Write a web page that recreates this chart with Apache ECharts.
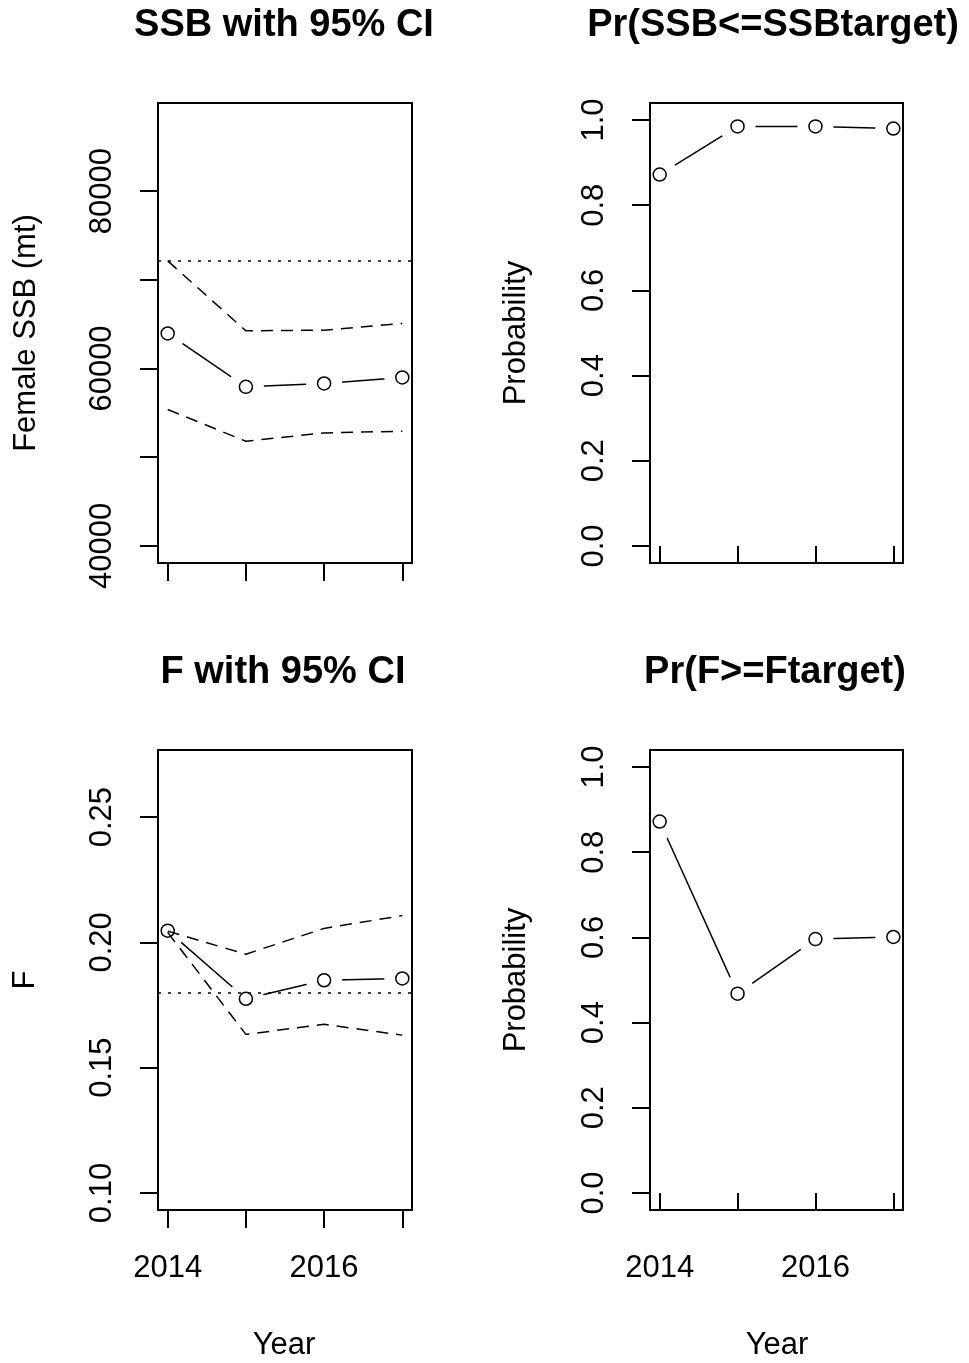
<!DOCTYPE html>
<html>
<head>
<meta charset="utf-8">
<script src="https://cdn.jsdelivr.net/npm/echarts@6/dist/echarts.min.js"></script>
<style>
html,body{margin:0;padding:0;background:#fff;}
#chart{width:969px;height:1363px;}
</style>
</head>
<body>
<div id="chart"></div>
<script>
// ---- data ----
const years = [2014, 2015, 2016, 2017];
const ssbMedian = [63950, 57930, 58310, 58990];
const ssbLower = [55380, 51800, 52740, 52930];
const ssbUpper = [72130, 64240, 64320, 65070];
const ssbTarget = 72100;
const fMedian = [0.2047, 0.1775, 0.1849, 0.1856];
const fLower = [0.2040, 0.1633, 0.1673, 0.1630];
const fUpper = [0.2045, 0.1953, 0.2056, 0.2107];
const fTarget = 0.18;
const prSSB = [0.872, 0.985, 0.985, 0.980];
const prF = [0.872, 0.468, 0.596, 0.601];
const ssbTicks = [40000, 50000, 60000, 70000, 80000];
const ssbTickLabels = [40000, 60000, 80000];
const fTicks = [0.10, 0.15, 0.20, 0.25];
const probTicks = [0.0, 0.2, 0.4, 0.6, 0.8, 1.0];
const yearLabels = [2014, 2016];
const titles = ['SSB with 95% CI', 'Pr(SSB<=SSBtarget)', 'F with 95% CI', 'Pr(F>=Ftarget)'];
const yNames = ['Female SSB (mt)', 'Probability', 'F', 'Probability'];
const xName = 'Year';

// ---- layout ----
const FONT = '"Liberation Sans", Arial, sans-serif';
const grids = [
  {left: 158, top: 103, width: 254, height: 460},
  {left: 650, top: 103, width: 253, height: 460},
  {left: 158, top: 750, width: 254, height: 460},
  {left: 650, top: 750, width: 253, height: 460}
];
const yRanges = [
  {min: 38080, max: 89920, ticks: ssbTicks, labels: ssbTickLabels, fmt: v => String(Math.round(v))},
  {min: -0.04, max: 1.04, ticks: probTicks, labels: probTicks, fmt: v => v.toFixed(1)},
  {min: 0.0932, max: 0.2768, ticks: fTicks, labels: fTicks, fmt: v => v.toFixed(2)},
  {min: -0.04, max: 1.04, ticks: probTicks, labels: probTicks, fmt: v => v.toFixed(1)}
];

const pairs = vals => years.map((y, i) => [y, vals[i]]);

const xAxes = grids.map((g, i) => ({
  type: 'value', gridIndex: i, min: 2013.876, max: 2017.124, z: 10,
  axisLine: {show: false}, splitLine: {show: false},
  axisTick: {show: true, length: 18, customValues: years, lineStyle: {color: '#000', width: 2}},
  axisLabel: {show: i >= 2, customValues: yearLabels, margin: 43, fontSize: 31, lineHeight: 31,
    fontFamily: FONT, color: '#000', formatter: v => String(v)}
}));
const yAxes = grids.map((g, i) => ({
  type: 'value', gridIndex: i, min: yRanges[i].min, max: yRanges[i].max, z: 10,
  axisLine: {show: false}, splitLine: {show: false},
  axisTick: {show: true, length: 18, customValues: yRanges[i].ticks, lineStyle: {color: '#000', width: 2}},
  axisLabel: {show: true, customValues: yRanges[i].labels, rotate: 90, margin: 40, fontSize: 31, lineHeight: 31,
    fontFamily: FONT, color: '#000', formatter: yRanges[i].fmt}
}));

const series = [];
function addMain(idx, vals) {
  series.push({type: 'line', xAxisIndex: idx, yAxisIndex: idx, data: pairs(vals), symbol: 'none',
    lineStyle: {color: '#000', width: 1.5}, z: 2, silent: true});
  series.push({type: 'scatter', xAxisIndex: idx, yAxisIndex: idx, data: pairs(vals), symbol: 'circle',
    symbolSize: 36, itemStyle: {color: '#fff', borderWidth: 0, opacity: 1}, z: 3, silent: true});
  series.push({type: 'scatter', xAxisIndex: idx, yAxisIndex: idx, data: pairs(vals), symbol: 'circle',
    symbolSize: 13, itemStyle: {color: 'rgba(0,0,0,0)', borderColor: '#000', borderWidth: 1.5, opacity: 1}, z: 6, silent: true});
}
function addCI(idx, lo, hi, target) {
  series.push({type: 'line', xAxisIndex: idx, yAxisIndex: idx, data: pairs(lo), symbol: 'none',
    lineStyle: {color: '#000', width: 1.5, type: [12, 8]}, z: 4, silent: true});
  series.push({type: 'line', xAxisIndex: idx, yAxisIndex: idx, data: pairs(hi), symbol: 'none',
    lineStyle: {color: '#000', width: 1.5, type: [12, 8]}, z: 4, silent: true,
    markLine: {silent: true, symbol: ['none', 'none'], label: {show: false}, z: 5,
      lineStyle: {color: '#000', width: 1.5, type: [3, 7]}, data: [{yAxis: target}]}});
}
addMain(0, ssbMedian); addCI(0, ssbLower, ssbUpper, ssbTarget);
addMain(1, prSSB);
addMain(2, fMedian); addCI(2, fLower, fUpper, fTarget);
addMain(3, prF);

const graphics = [];
const titlePos = [[284, 26], [773, 26], [283, 673], [775, 673]];
titles.forEach((t, i) => graphics.push({type: 'text', x: titlePos[i][0], y: titlePos[i][1],
  style: {text: t, font: 'bold 38px ' + FONT, fill: '#000', textAlign: 'center', textVerticalAlign: 'middle'}}));
const yNamePos = [[26, 333], [516, 333], [25, 980], [516, 980]];
yNames.forEach((t, i) => graphics.push({type: 'text', x: yNamePos[i][0], y: yNamePos[i][1], rotation: Math.PI / 2,
  style: {text: t, font: '31px ' + FONT, fill: '#000', textAlign: 'center', textVerticalAlign: 'middle'}}));
[[284, 1345], [777, 1345]].forEach(p => graphics.push({type: 'text', x: p[0], y: p[1],
  style: {text: xName, font: '31px ' + FONT, fill: '#000', textAlign: 'center', textVerticalAlign: 'middle'}}));

const chart = echarts.init(document.getElementById('chart'), null, {renderer: 'canvas'});
chart.setOption({
  animation: false,
  backgroundColor: '#fff',
  grid: grids.map(g => Object.assign({show: true, borderColor: '#000', borderWidth: 2, backgroundColor: 'transparent', z: 10}, g)),
  xAxis: xAxes,
  yAxis: yAxes,
  series: series,
  graphic: graphics
});
</script>
</body>
</html>
